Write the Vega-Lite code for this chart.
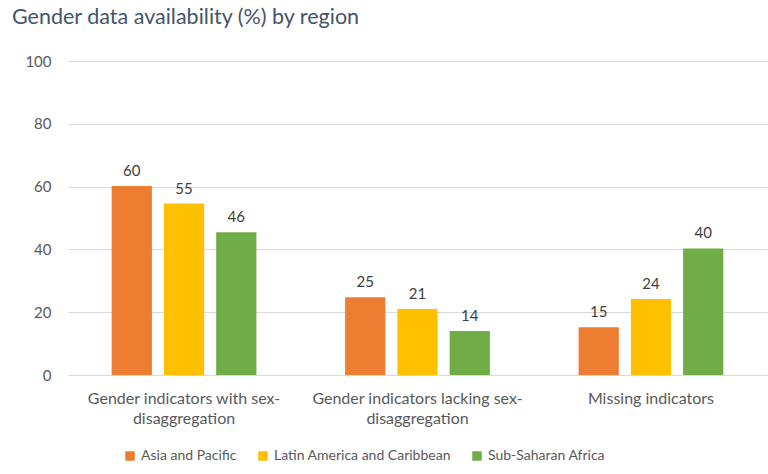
{
  "$schema": "https://vega.github.io/schema/vega-lite/v6.json",
  "width": 699,
  "height": 314,
  "autosize": {"type": "none"},
  "padding": {"left": 68, "top": 61, "right": 1, "bottom": 99},
  "background": "white",
  "title": {
    "text": "Gender data availability (%) by region",
    "anchor": "start",
    "frame": "group",
    "dx": -56,
    "offset": 26,
    "fontSize": 21.5,
    "font": "Lato",
    "fontWeight": "normal",
    "color": "#44546A"
  },
  "config": {
    "view": {"stroke": null},
    "font": "Lato"
  },
  "data": {
    "values": [
      {"category": "Gender indicators with sex-disaggregation", "region": "Asia and Pacific", "value": 60.2, "label": "60"},
      {"category": "Gender indicators with sex-disaggregation", "region": "Latin America and Caribbean", "value": 54.6, "label": "55"},
      {"category": "Gender indicators with sex-disaggregation", "region": "Sub-Saharan Africa", "value": 45.5, "label": "46"},
      {"category": "Gender indicators lacking sex-disaggregation", "region": "Asia and Pacific", "value": 24.8, "label": "25"},
      {"category": "Gender indicators lacking sex-disaggregation", "region": "Latin America and Caribbean", "value": 21.0, "label": "21"},
      {"category": "Gender indicators lacking sex-disaggregation", "region": "Sub-Saharan Africa", "value": 14.0, "label": "14"},
      {"category": "Missing indicators", "region": "Asia and Pacific", "value": 15.2, "label": "15"},
      {"category": "Missing indicators", "region": "Latin America and Caribbean", "value": 24.2, "label": "24"},
      {"category": "Missing indicators", "region": "Sub-Saharan Africa", "value": 40.3, "label": "40"}
    ]
  },
  "encoding": {
    "x": {
      "field": "category",
      "type": "nominal",
      "sort": null,
      "scale": {"paddingInner": 0.38, "paddingOuter": 0.187},
      "axis": {
        "title": null,
        "labelAngle": 0,
        "domain": false,
        "ticks": false,
        "labelFontSize": 16,
        "labelColor": "#595959",
        "labelPadding": 15,
        "labelLineHeight": 20,
        "labelLimit": 300,
        "labelExpr": "split(replace(datum.label, 'sex-', 'sex-|'), '|')"
      }
    },
    "xOffset": {
      "field": "region",
      "type": "nominal",
      "sort": null,
      "scale": {"paddingInner": 0.23, "paddingOuter": 0}
    },
    "y": {
      "field": "value",
      "type": "quantitative",
      "scale": {"domain": [0, 100]},
      "axis": {
        "title": null,
        "values": [0, 20, 40, 60, 80, 100],
        "domain": false,
        "ticks": false,
        "labelFontSize": 15,
        "labelColor": "#595959",
        "labelPadding": 17,
        "gridColor": "#D9D9D9",
        "gridWidth": 1
      }
    }
  },
  "layer": [
    {
      "mark": {"type": "bar"},
      "encoding": {
        "color": {
          "field": "region",
          "type": "nominal",
          "sort": null,
          "scale": {
            "domain": ["Asia and Pacific", "Latin America and Caribbean", "Sub-Saharan Africa"],
            "range": ["#ED7D31", "#FFC000", "#70AD47"]
          },
          "legend": {
            "title": null,
            "orient": "none",
            "direction": "horizontal",
            "legendX": 55,
            "legendY": 388,
            "symbolType": "square",
            "symbolSize": 90,
            "symbolStrokeWidth": 0,
            "labelFontSize": 14,
            "labelColor": "#595959",
            "labelOffset": 4,
            "labelLimit": 300,
            "columnPadding": 19,
            "padding": 0
          }
        }
      }
    },
    {
      "mark": {"type": "text", "baseline": "bottom", "dy": -7, "fontSize": 15, "color": "#404040"},
      "encoding": {
        "text": {"field": "label"}
      }
    }
  ]
}
